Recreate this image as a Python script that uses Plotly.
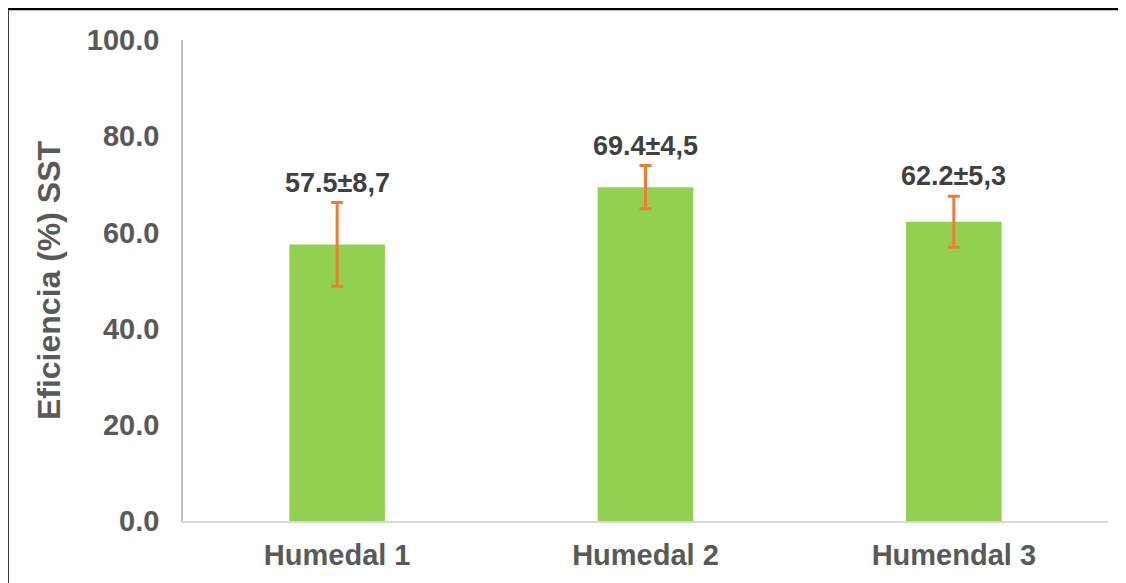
"""Eficiencia de remoción de SST por humedal."""

import plotly.graph_objects as go

HUMEDALES = ["Humedal 1", "Humedal 2", "Humendal 3"]
EFICIENCIA = [57.5, 69.4, 62.2]
DESVIACION = [8.7, 4.5, 5.3]
ETIQUETAS = ["57.5±8,7", "69.4±4,5", "62.2±5,3"]
Y_TICKS = [0, 20, 40, 60, 80, 100]

FONT = "Liberation Sans, Arial, sans-serif"
BAR_COLOR = "#92D050"
ERR_COLOR = "#ED7D31"
TICK_COLOR = "#595959"
LABEL_COLOR = "#404040"

fig = go.Figure(
    go.Bar(
        x=HUMEDALES,
        y=EFICIENCIA,
        marker=dict(color=BAR_COLOR, line=dict(width=0)),
        error_y=dict(
            type="data",
            array=DESVIACION,
            color=ERR_COLOR,
            thickness=3,
            width=6,
        ),
        showlegend=False,
    )
)

for name, mean, err, txt in zip(HUMEDALES, EFICIENCIA, DESVIACION, ETIQUETAS):
    fig.add_annotation(
        x=name,
        y=mean + err,
        text=f"<b>{txt}</b>",
        showarrow=False,
        yanchor="bottom",
        yshift=3,
        font=dict(family=FONT, size=27, color=LABEL_COLOR),
    )

# outer black frame (only top and left edges fall inside the image)
fig.add_shape(
    type="rect",
    xref="paper",
    yref="paper",
    x0=-0.1897,
    x1=1.05,
    y0=-0.3,
    y1=1.0644,
    line=dict(color="black", width=2.5),
)

# the page body adds an 8px offset, so the figure is 8px smaller
fig.update_layout(
    width=1118,
    height=575,
    margin=dict(l=175, r=18, t=32, b=62),
    paper_bgcolor="white",
    plot_bgcolor="white",
    bargap=0.69,
    font=dict(family=FONT, color=TICK_COLOR),
    xaxis=dict(
        showline=True,
        linecolor="#D9D9D9",
        linewidth=1.5,
        ticks="",
        tickfont=dict(family=FONT, size=29, color=TICK_COLOR, weight="bold"),
        ticklabelstandoff=7,
        automargin=False,
    ),
    yaxis=dict(
        range=[0, 100],
        tickvals=Y_TICKS,
        tickformat=".1f",
        showgrid=False,
        zeroline=False,
        showline=True,
        linecolor="#BFBFBF",
        linewidth=1.5,
        ticks="",
        tickfont=dict(family=FONT, size=29, color=TICK_COLOR, weight="bold"),
        ticklabelstandoff=16,
        automargin=False,
        title=dict(
            text="Eficiencia (%) SST",
            font=dict(family=FONT, size=32, color=TICK_COLOR, weight="bold"),
            standoff=17,
        ),
    ),
)

fig.write_html("out.html")
